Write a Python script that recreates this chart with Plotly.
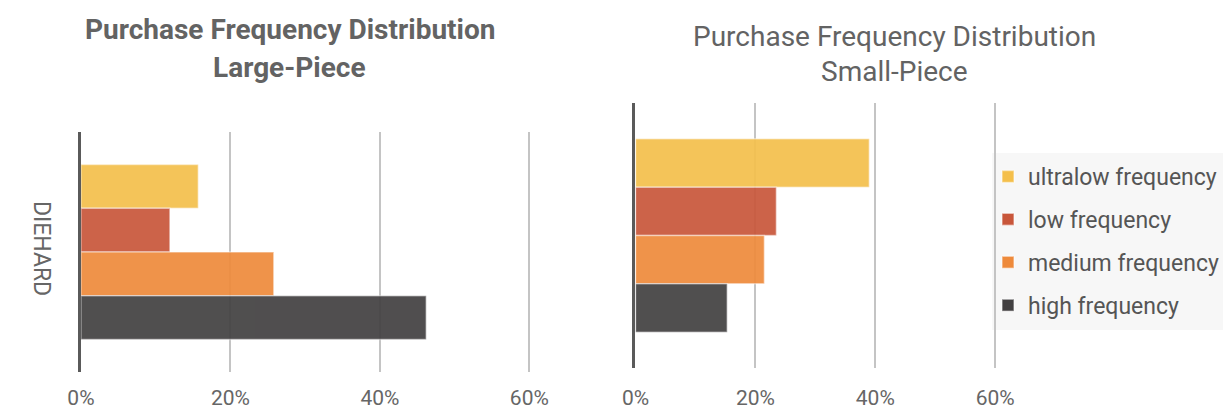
import plotly.graph_objects as go

# share of purchases by frequency segment (in %)
segments = ["ultralow frequency", "low frequency", "medium frequency", "high frequency"]
colors = ["#F4BF4B", "#C8563A", "#EE8A3B", "#424041"]
category = ["DIEHARD"]
large_piece = [15.7, 11.9, 25.8, 46.2]
small_piece = [39.0, 23.5, 21.5, 15.3]
ticks = [0, 20, 40, 60]
tick_labels = ["0%", "20%", "40%", "60%"]

W, H = 1224, 410

fig = go.Figure()
for i, seg in enumerate(segments):
    for vals, xa, ya, show in [(large_piece, "x", "y", True), (small_piece, "x2", "y2", False)]:
        fig.add_trace(go.Bar(
            x=[vals[i]], y=category, orientation="h",
            name=seg, legendgroup=seg, showlegend=show,
            marker=dict(color=colors[i], opacity=0.92,
                        line=dict(color="rgba(255,255,255,0.45)", width=1.5)),
            xaxis=xa, yaxis=ya,
        ))

font = dict(family="Roboto, sans-serif", color="#666666")

xcommon = dict(range=[0, 61], tickvals=ticks, ticktext=tick_labels, showgrid=True,
               gridcolor="#c4c4c4", gridwidth=1.5, zeroline=False, showline=False,
               automargin=False, tickfont=dict(size=21, color="#666666"))
ycommon = dict(showline=True, linecolor="#5a5a5a", linewidth=3, showgrid=False,
               ticks="", autorange="reversed", automargin=False)

fig.update_layout(
    width=W, height=H,
    margin=dict(l=0, r=0, t=0, b=0),
    paper_bgcolor="white", plot_bgcolor="white",
    font=font,
    barmode="group", bargap=0.27, bargroupgap=0,
    xaxis=dict(domain=[81 / W, (81 + 61 * 7.48) / W], anchor="y",
               ticklabelstandoff=11, **xcommon),
    yaxis=dict(domain=[1 - 372 / H, 1 - 132 / H], anchor="x",
               tickangle=90, tickfont=dict(size=23, color="#666666"),
               ticklabelstandoff=16, **ycommon),
    xaxis2=dict(domain=[636 / W, (636 + 61 * 6.0) / W], anchor="y2",
                ticklabelstandoff=15, **xcommon),
    yaxis2=dict(domain=[1 - 368 / H, 1 - 103 / H], anchor="x2",
                showticklabels=False, **ycommon),
    legend=dict(x=989 / W, xanchor="left", y=1 - 155 / H, yanchor="top",
                bgcolor="rgba(0,0,0,0)", font=dict(size=23, color="#555555"),
                tracegroupgap=10, itemwidth=30),
    shapes=[dict(type="rect", xref="paper", yref="paper", layer="below",
                 x0=993 / W, x1=1.0, y0=1 - 330 / H, y1=1 - 153 / H,
                 fillcolor="#f7f7f7", line=dict(width=0))],
    annotations=[
        dict(text="<b>Purchase Frequency Distribution</b>", x=290 / W, y=1 - 30 / H),
        dict(text="<b>Large-Piece</b>", x=290 / W, y=1 - 67 / H),
        dict(text="Purchase Frequency Distribution", x=895 / W, y=1 - 37 / H),
        dict(text="Small-Piece", x=895 / W, y=1 - 72 / H),
    ],
)
fig.update_annotations(xref="paper", yref="paper", xanchor="center", yanchor="middle",
                       showarrow=False, font=dict(size=28, color="#636363"))

# drop the browser's default body margin so the figure fills the window exactly
fig.write_html("out.html", config={"displayModeBar": False},
               post_script="document.body.style.margin='0';")
